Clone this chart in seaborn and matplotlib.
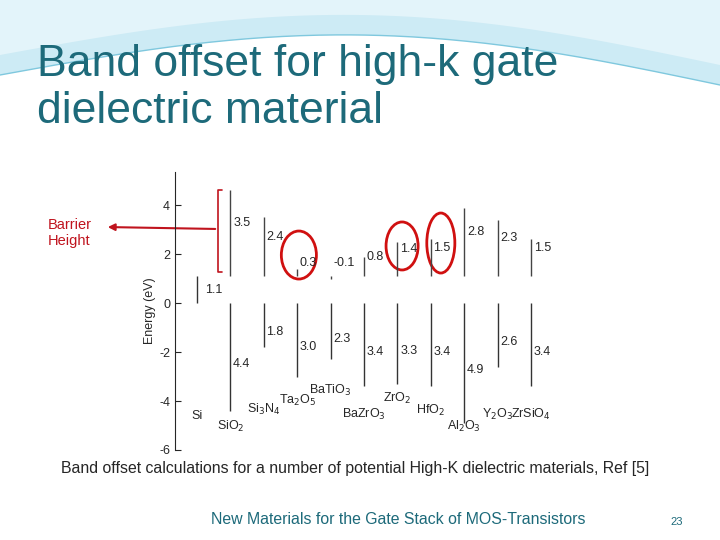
import matplotlib
matplotlib.use("Agg")
import matplotlib.pyplot as plt
import seaborn as sns
import numpy as np
from matplotlib.patches import Ellipse

materials = ["Si", "SiO$_2$", "Si$_3$N$_4$", "Ta$_2$O$_5$", "BaTiO$_3$", "BaZrO$_3$",
             "ZrO$_2$", "HfO$_2$", "Al$_2$O$_3$", "Y$_2$O$_3$", "ZrSiO$_4$"]
si_gap = 1.1
cb_offset = [None, 3.5, 2.4, 0.3, -0.1, 0.8, 1.4, 1.5, 2.8, 2.3, 1.5]
vb_offset = [None, 4.4, 1.8, 3.0, 2.3, 3.4, 3.3, 3.4, 4.9, 2.6, 3.4]
name_y = [-4.6, -5.04, -4.34, -3.96, -3.55, -4.54, -3.9, -4.37, -5.04, -4.54, -4.54]
yticks = [-6, -4, -2, 0, 2, 4]

sns.set_style("white")
plt.rcParams['font.family'] = ['Liberation Sans', 'DejaVu Sans']
plt.rcParams['axes.unicode_minus'] = False
fig = plt.figure(figsize=(7.2, 5.4), dpi=100)

# top decoration
deco = fig.add_axes([0, 0, 1, 1], zorder=-5)
deco.set_xlim(0, 720); deco.set_ylim(540, 0); deco.axis("off")
xs = np.linspace(0, 720, 200)
bot = 75 - 45 * np.sin(xs / 720 * np.pi) + 10 * (xs / 720)
deco.fill_between(xs, 0, bot, color="#CDEBF5", lw=0)
deco.fill_between(xs, 0, bot - 20, color="#E3F4FA", lw=0)
deco.plot(xs, bot, color="#7FC8DE", lw=1)

# texts
fig.text(37 / 720, 1 - 44 / 540, "Band offset for high-k gate\ndielectric material",
         fontsize=32, color="#1D6A7A", va="top", ha="left", linespacing=1.2)
fig.text(61 / 720, 1 - 468 / 540,
         "Band offset calculations for a number of potential High-K dielectric materials, Ref [5]",
         fontsize=11.4, va="center", ha="left")
fig.text(398 / 720, 1 - 520 / 540, "New Materials for the Gate Stack of MOS-Transistors",
         fontsize=11.4, color="#1D6A7A", va="center", ha="center")
fig.text(677 / 720, 1 - 522 / 540, "23", fontsize=8, color="#1D6A7A", va="center", ha="center")
fig.text(48 / 720, 1 - 233 / 540, "Barrier\nHeight", fontsize=10.5, color="#C0141E",
         va="center", ha="left", linespacing=1.2)
deco.annotate("", xy=(105, 227), xytext=(218, 229),
              arrowprops=dict(arrowstyle="-|>", color="#C0141E", lw=1.5))
deco.plot([222, 218, 218, 222], [190, 190, 272, 272], color="#C0141E", lw=1.2)

# chart
px_unit = 33.4
x0 = 197
ax = fig.add_axes([175 / 720, 90 / 540, 385 / 720, 278 / 540])
ax.patch.set_alpha(0)
ax.set_xlim((175 - x0) / px_unit, (560 - x0) / px_unit)
ax.set_ylim(-6, 5.35)
for s in ["top", "right", "bottom"]:
    ax.spines[s].set_visible(False)
ax.spines["left"].set_linewidth(0.8)
ax.set_xticks([])
ax.set_yticks(yticks)
ax.tick_params(axis="y", direction="in", length=4, width=0.8, labelsize=9, left=True)
ax.set_ylabel("Energy (eV)", fontsize=9, labelpad=2)

ax.vlines(0, 0, si_gap, color="#333333", lw=1)
ax.text(0.25, si_gap / 2, "1.1", fontsize=9, va="center")
for i in range(1, len(materials)):
    cb, vb = cb_offset[i], vb_offset[i]
    ax.vlines(i, si_gap, si_gap + cb, color="#444444", lw=1)
    ax.vlines(i, -vb, 0, color="#333333", lw=1)
    ax.text(i + 0.08, si_gap + max(cb, 0.3) / 2 + 0.4, f"{cb}", fontsize=9, va="center")
    ax.text(i + 0.08, -vb / 2 - 0.3, f"{vb}", fontsize=9, va="center")
for i, m in enumerate(materials):
    ax.text(i, name_y[i], m, fontsize=9, ha="center", va="center")

for cx, cy, w, h in [(3.05, 1.96, 1.05, 1.96), (6.14, 2.33, 0.96, 1.96), (7.3, 2.45, 0.84, 2.45)]:
    ax.add_patch(Ellipse((cx, cy), w, h, fill=False, ec="#D01010", lw=2))

fig.savefig("out.png", dpi=100)
